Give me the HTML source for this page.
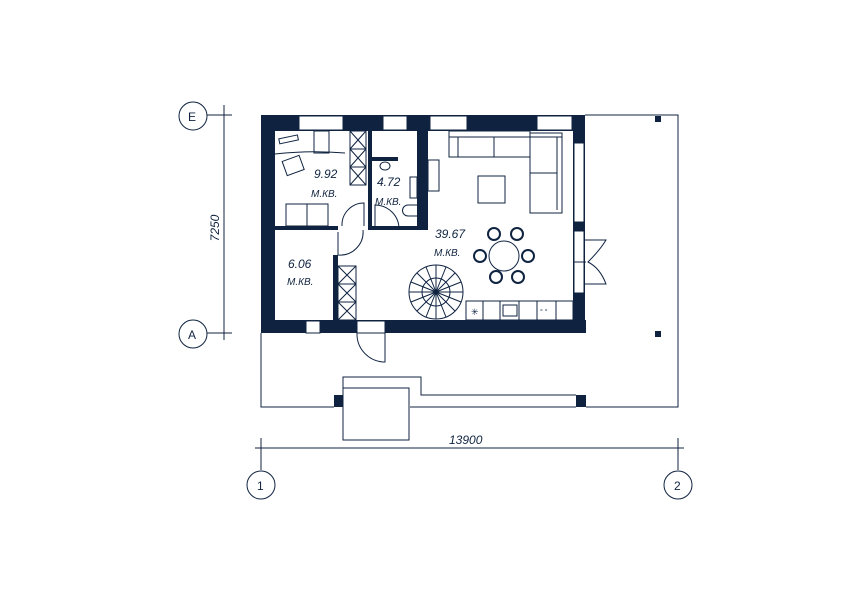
<!DOCTYPE html>
<html><head><meta charset="utf-8"><style>
html,body{margin:0;padding:0;background:#fff;}
svg{display:block;}
text{font-family:"Liberation Sans",sans-serif;font-style:italic;fill:#0f2340;}
</style></head><body>
<svg width="841" height="594" viewBox="0 0 841 594" xmlns="http://www.w3.org/2000/svg">
<g fill="#0f2340">
<rect x="261" y="115" width="324" height="16"/>
<rect x="261" y="115" width="14" height="218"/>
<rect x="261" y="320" width="325" height="13"/>
<rect x="573" y="115" width="12" height="218"/>
<rect x="275" y="226" width="63" height="4"/>
<rect x="333" y="255" width="5" height="66"/>
<rect x="368" y="131" width="4" height="99"/>
<rect x="417" y="131" width="11" height="99"/>
<rect x="372" y="226" width="45" height="4"/>
<rect x="372" y="157" width="26" height="4"/>
<rect x="655" y="116" width="6" height="6"/>
<rect x="655" y="331" width="6" height="6"/>
<rect x="334" y="395" width="9" height="12"/>
<rect x="576" y="395" width="10" height="12"/>
</g>
<g fill="#fff" stroke="#0f2340" stroke-width="1">
<rect x="299" y="116" width="44" height="14"/>
<rect x="383" y="116" width="24" height="14"/>
<rect x="430" y="116" width="37" height="14"/>
<rect x="537" y="116" width="35" height="14"/>
<rect x="574" y="143" width="10" height="79"/>
<rect x="574" y="231" width="10" height="62"/>
<rect x="306" y="321" width="14" height="12"/>
<rect x="357" y="321" width="28" height="12"/>
</g>
<g fill="none" stroke="#0f2340" stroke-width="1">
<polyline points="585,115 678,115 678,407 586,407"/>
<polyline points="261,333 261,407 334,407"/>
<line x1="410" y1="407" x2="576" y2="407"/>
<polyline points="343,395 343,377 421,377 421,395 576,395"/>
<rect x="343" y="388" width="66" height="52"/>
<path d="M385 333 V362 A28 28 0 0 1 357 333"/>
<path d="M585 240 H606 Q600 250 588 262 Q600 268 606 284 H585"/>
<line x1="574" y1="262" x2="586" y2="262"/>
<line x1="224" y1="105" x2="224" y2="340"/>
<line x1="207" y1="115" x2="232" y2="115"/>
<line x1="207" y1="333" x2="232" y2="333"/>
<circle cx="193" cy="116" r="14"/>
<circle cx="193" cy="334" r="14"/>
<line x1="255" y1="448" x2="684" y2="448"/>
<line x1="261" y1="438" x2="261" y2="470"/>
<line x1="678" y1="438" x2="678" y2="470"/>
<circle cx="261" cy="485" r="14"/>
<circle cx="678" cy="485" r="14"/>
<rect x="279" y="137" width="19" height="5" transform="rotate(-12 288 139)"/>
<rect x="314" y="131" width="15" height="22"/>
<path d="M275 154 Q310 150 345 153"/>
<rect x="284" y="158" width="18" height="15" transform="rotate(-20 293 165)"/>
<rect x="286" y="204" width="42" height="22"/>
<line x1="307" y1="204" x2="307" y2="226"/>
<rect x="350" y="131" width="16" height="54"/>
<path d="M350 131 L366 149 M366 131 L350 149 M350 149 L366 167 M366 149 L350 167 M350 167 L366 185 M366 167 L350 185 M350 149 H366 M350 167 H366"/>
<path d="M364 226 V203 A22 22 0 0 0 342 226"/>
<path d="M375 229 V205 A24 24 0 0 1 399 229"/>
<ellipse cx="385" cy="166" rx="5" ry="4"/>
<path d="M417 205 H408 A5 5 0 0 0 408 216 H417"/>
<rect x="410" y="177" width="7" height="21"/>
<path d="M338 232 V255 A23 23 0 0 0 363 230"/>
<rect x="338" y="266" width="18" height="54"/>
<path d="M338 266 L356 284 M356 266 L338 284 M338 284 L356 302 M356 284 L338 302 M338 302 L356 320 M356 302 L338 320 M338 284 H356 M338 302 H356"/>
<rect x="428" y="160" width="11" height="31"/>
<rect x="449" y="131" width="81" height="26"/>
<line x1="458" y1="137" x2="458" y2="157"/>
<line x1="494" y1="137" x2="494" y2="157"/>
<line x1="449" y1="137" x2="562" y2="137"/>
<rect x="530" y="133" width="32" height="80"/>
<line x1="530" y1="173" x2="557" y2="173"/>
<line x1="557" y1="137" x2="557" y2="210"/>
<rect x="478" y="176" width="27" height="27"/>
<circle cx="504" cy="256" r="15"/>
<g stroke-width="2"><circle cx="494" cy="234" r="6"/><circle cx="517" cy="234" r="6"/><circle cx="480" cy="256" r="6"/><circle cx="528" cy="256" r="6"/><circle cx="496" cy="277" r="6"/><circle cx="518" cy="277" r="6"/></g>
<circle cx="436" cy="292" r="27"/>
<circle cx="436" cy="292" r="14"/>
<path d="M436 265 L436 319 M409 292 L463 292 M417 273 L455 311 M455 273 L417 311 M426 267 L446 317 M446 267 L426 317 M411 282 L461 302 M461 282 L411 302"/>
<rect x="466" y="301" width="107" height="19"/>
<path d="M483 301 V320 M500 301 V320 M519 301 V320 M537 301 V320 M556 301 V320"/>
<rect x="503" y="305" width="14" height="11"/>
</g>
<g fill="#0f2340" font-size="12">
<text x="314" y="178">9.92</text>
<text x="311" y="197" font-size="10">М.КВ.</text>
<text x="377" y="186">4.72</text>
<text x="375" y="205" font-size="10">М.КВ.</text>
<text x="288" y="268">6.06</text>
<text x="287" y="285" font-size="10">М.КВ.</text>
<text x="435" y="238">39.67</text>
<text x="434" y="256" font-size="10">М.КВ.</text>
<text x="449" y="444">13900</text>
<text x="188" y="121" style="font-style:normal">Е</text>
<text x="188" y="339" style="font-style:normal">А</text>
<text x="257" y="490" style="font-style:normal">1</text>
<text x="674" y="490" style="font-style:normal">2</text>
<text x="0" y="0" text-anchor="middle" transform="translate(219 228) rotate(-90)">7250</text>
<text x="471" y="315" font-size="9" style="font-style:normal">✳</text>
<text x="540" y="314" font-size="7" style="font-style:normal">° °</text>
</g>
</svg>
</body></html>
